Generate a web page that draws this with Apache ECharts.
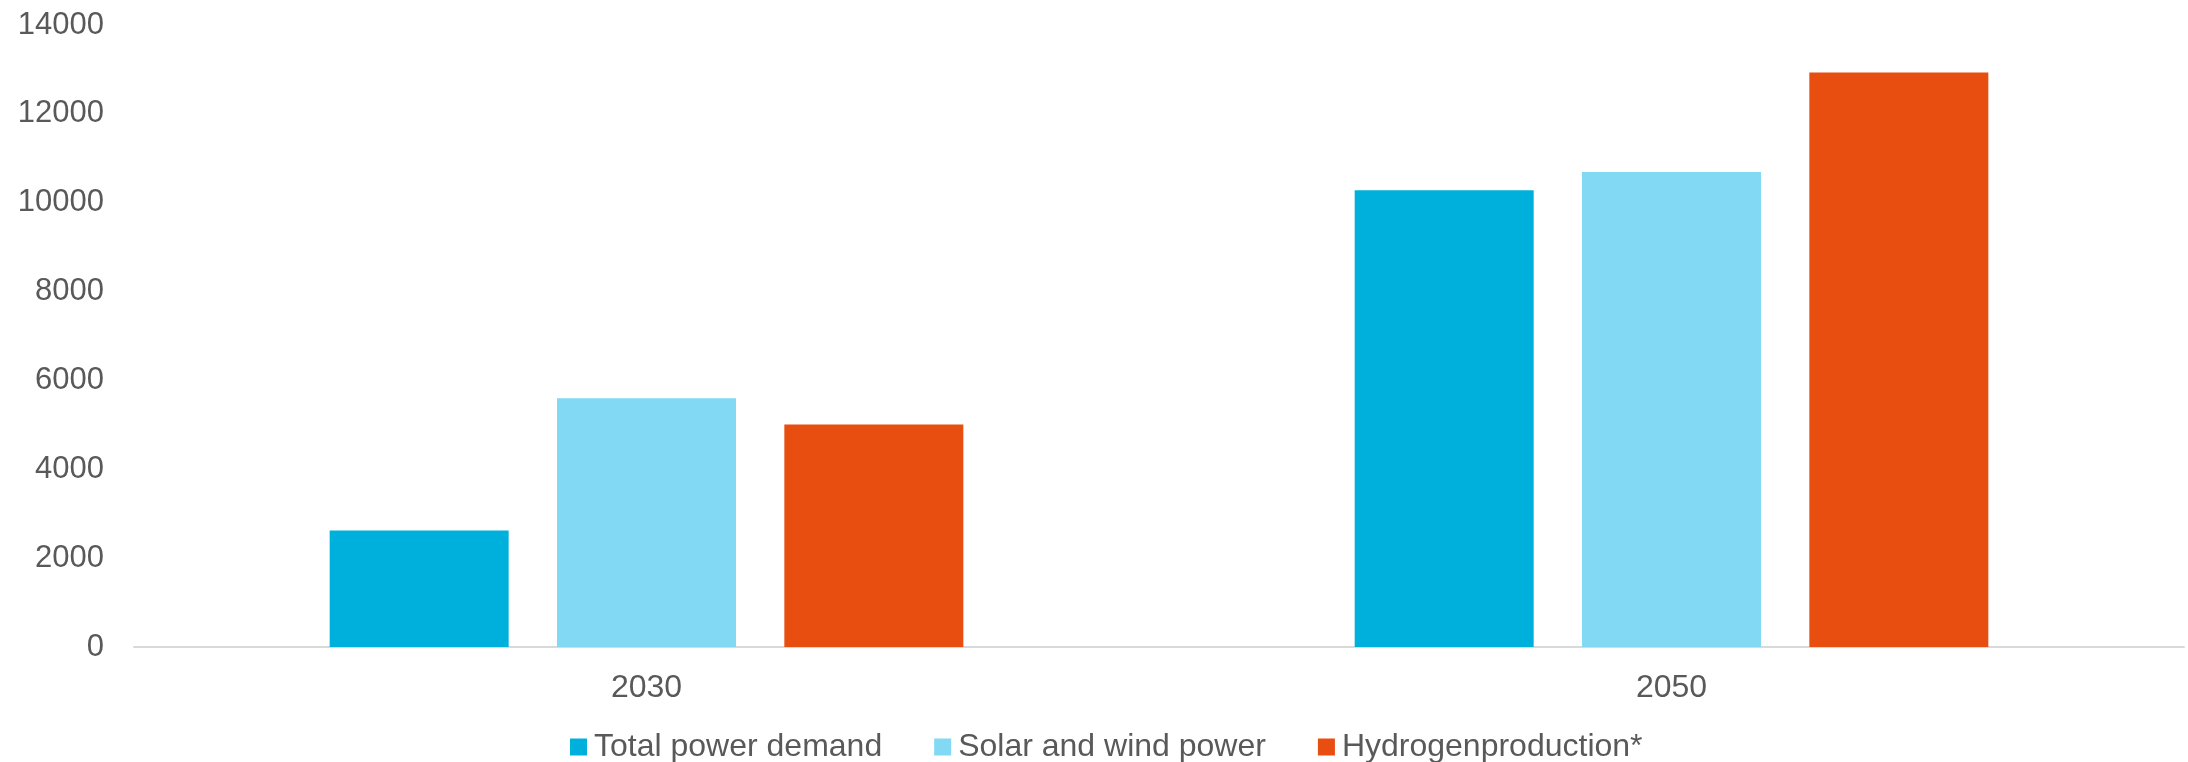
<!DOCTYPE html>
<html>
<head>
<meta charset="utf-8">
<script src="https://cdn.jsdelivr.net/npm/echarts@6/dist/echarts.min.js"></script>
<style>
	html, body { margin: 0; padding: 0; background: #fff; }
	#chart { width: 2188px; height: 762px; }
</style>
</head>
<body>
<div id="chart"></div>
<script>
const categories = ['2030', '2050']
const totalPowerDemand = [2620, 10280]
const solarAndWindPower = [5600, 10690]
const hydrogenProduction = [5010, 12930]
const seriesNames = ['Total power demand', 'Solar and wind power', 'Hydrogenproduction*']
const colors = ['#00B0DC', '#81D9F3', '#E84E0F']

const font = "'Liberation Sans', Arial, sans-serif"
const textColor = '#595959'

const chart = echarts.init(document.getElementById('chart'))

const makeBar = (name, data, color) => ({
	name: name,
	type: 'bar',
	data: data,
	barWidth: 179,
	barGap: '27%',
	itemStyle: { color: color },
})

chart.setOption({
	animation: false,
	textStyle: { fontFamily: font },
	grid: {
		left: 134,
		right: 4,
		top: 25,
		bottom: 115,
	},
	legend: {
		left: 570,
		top: 731,
		padding: 0,
		icon: 'rect',
		itemWidth: 17,
		itemHeight: 17,
		itemGap: 52,
		textStyle: { fontSize: 32, color: textColor, fontFamily: font, padding: [0, 0, 0, 2] },
		data: seriesNames,
	},
	xAxis: {
		type: 'category',
		data: categories,
		axisLine: { lineStyle: { color: '#d9d9d9', width: 2 } },
		axisTick: { show: false },
		axisLabel: { fontSize: 32, color: textColor, fontFamily: font, margin: 25 },
	},
	yAxis: {
		type: 'value',
		min: 0,
		max: 14000,
		interval: 2000,
		splitLine: { show: false },
		axisLine: { show: false },
		axisTick: { show: false },
		axisLabel: {
			fontSize: 31,
			color: textColor,
			fontFamily: font,
			margin: 30,
			formatter: (v) => String(v),
		},
	},
	series: [
		makeBar(seriesNames[0], totalPowerDemand, colors[0]),
		makeBar(seriesNames[1], solarAndWindPower, colors[1]),
		makeBar(seriesNames[2], hydrogenProduction, colors[2]),
	],
})
</script>
</body>
</html>
